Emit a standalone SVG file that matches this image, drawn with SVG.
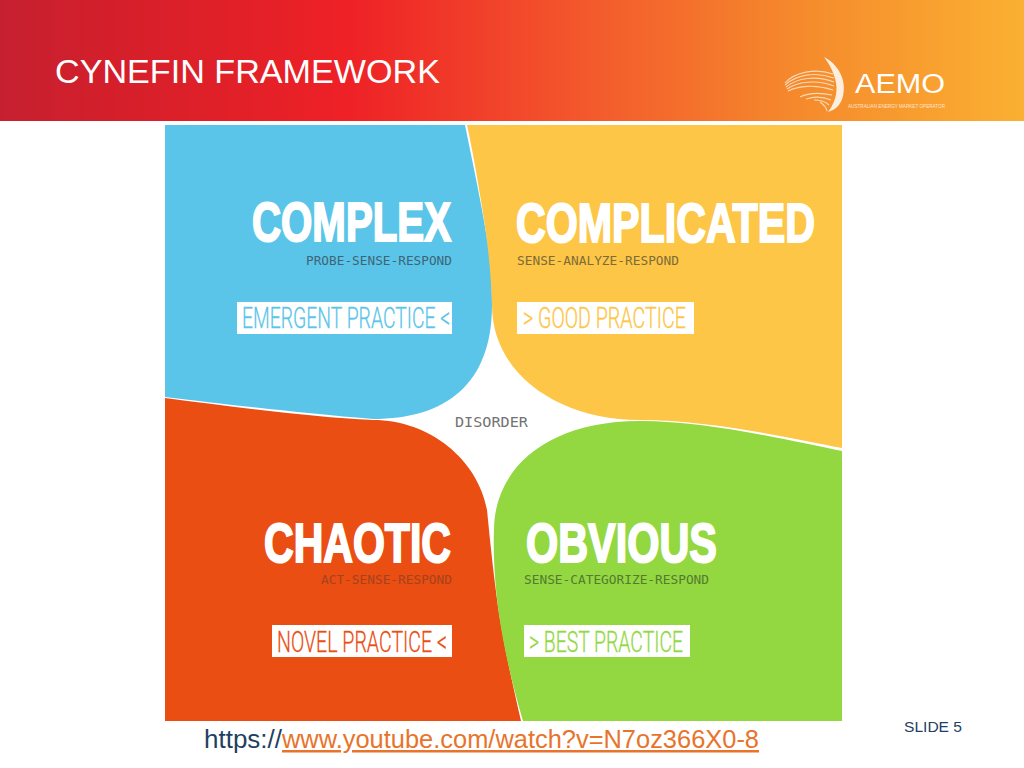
<svg xmlns="http://www.w3.org/2000/svg" width="1024" height="768" viewBox="0 0 1024 768">
<style>
.t{font-family:"Liberation Sans",Arial,sans-serif;font-weight:700;font-size:55px;fill:#fff;stroke:#fff;stroke-width:2}
.s{font-family:"DejaVu Sans Mono","Liberation Mono",monospace;font-size:12px}
.p{font-family:"Roboto","Liberation Sans",sans-serif;font-size:30px;font-weight:300;stroke-width:.3}
.w{fill:#fff}
.h{font-family:"Liberation Sans",Arial,sans-serif}
.sw{fill:none;stroke:#fde6cf;stroke-width:1.1;opacity:.85}
</style>
<defs>
<linearGradient id="hg" x1="0" y1="0" x2="1" y2="0">
<stop offset="0" stop-color="#c62030"/><stop offset="0.1" stop-color="#d31f2b"/><stop offset="0.34" stop-color="#ee2126"/><stop offset="0.55" stop-color="#f3532c"/><stop offset="0.78" stop-color="#f58a2c"/><stop offset="1" stop-color="#fbb032"/>
</linearGradient>
</defs>
<rect width="1024" height="768" fill="#fff"/>
<g id="header">
<rect width="1024" height="121" fill="url(#hg)"/>
<text class="h" x="55" y="83" font-size="33" fill="#fff" textLength="385" lengthAdjust="spacingAndGlyphs">CYNEFIN FRAMEWORK</text>
</g>
<g id="logo">
<path d="M824 57C838 64 847 80 843 96C841 105 835 110 828 112C834 104 838 94 836 83C834 73 830 65 824 57Z" fill="#fdeedd"/>
<path class="sw" d="M785 83C795 72 815 68 833 74"/>
<path class="sw" d="M785 85C796 75 815 71 834 78"/>
<path class="sw" d="M786 87C797 78 816 75 834 82"/>
<path class="sw" d="M787 89C797 82 816 79 834 86"/>
<path class="sw" d="M788 91C798 86 815 84 833 90"/>
<path class="sw" d="M800 97C810 92 822 93 832 95"/>
<path class="sw" d="M806 99C815 96 824 97 831 100"/>
<path class="sw" d="M814 100C820 100 826 102 829 105"/>
<path class="sw" d="M820 102C823 104 826 107 827 111"/>
<text class="h" x="855" y="92.5" font-size="27" fill="#fff" textLength="90" lengthAdjust="spacingAndGlyphs">AEMO</text>
<text class="h" x="848" y="108" font-size="5.5" fill="#fde5cf" textLength="97" lengthAdjust="spacingAndGlyphs">AUSTRALIAN ENERGY MARKET OPERATOR</text>
</g>
<g id="complex">
<path d="M165 125H465C472 160 482 205 488 245C491 265 492 285 492 305C492 385 445 419 373 419C330 416 230 405 165 397Z" fill="#5bc5e9"/>
<text class="t" x="252" y="241" textLength="199" lengthAdjust="spacingAndGlyphs">COMPLEX</text>
<text class="s" x="306" y="265" fill="#3d6577" textLength="146" lengthAdjust="spacingAndGlyphs">PROBE-SENSE-RESPOND</text>
<rect class="w" x="237" y="302" width="215" height="32"/>
<text class="p" transform="translate(242 328) scale(.72 1)" fill="#5bc5e9" stroke="#5bc5e9" textLength="289" lengthAdjust="spacingAndGlyphs">EMERGENT PRACTICE &lt;</text>
</g>
<g id="complicated">
<path d="M467 125H842V448C790 438 710 420 640 420C560 420 492 375 492 305C491 270 487 235 480 195C476 170 472 148 467 125Z" fill="#fdc646"/>
<text class="t" x="516" y="242" textLength="299" lengthAdjust="spacingAndGlyphs">COMPLICATED</text>
<text class="s" x="517" y="265" fill="#7d6c3a" textLength="162" lengthAdjust="spacingAndGlyphs">SENSE-ANALYZE-RESPOND</text>
<rect class="w" x="517" y="302" width="177" height="32"/>
<text class="p" x="523" y="328" fill="#fdc646" stroke="#fdc646" textLength="163" lengthAdjust="spacingAndGlyphs">&gt; GOOD PRACTICE</text>
</g>
<g id="chaotic">
<path d="M165 398C235 407 310 417 373 420C430 420 478 460 487 510C490 540 495 590 501 625C507 660 514 690 521 721H165Z" fill="#ea4e13"/>
<text class="t" x="264" y="562" textLength="187" lengthAdjust="spacingAndGlyphs">CHAOTIC</text>
<text class="s" x="321" y="584" fill="#a4431c" textLength="131" lengthAdjust="spacingAndGlyphs">ACT-SENSE-RESPOND</text>
<rect class="w" x="272" y="625" width="180" height="32"/>
<text class="p" x="277" y="652" fill="#ea4e13" stroke="#ea4e13" textLength="170" lengthAdjust="spacingAndGlyphs">NOVEL PRACTICE &lt;</text>
</g>
<g id="obvious">
<path d="M842 451V721H523C514 690 505 655 499 615C495 585 493 555 494 530C494 470 545 421 640 421C710 421 790 441 842 451Z" fill="#93d840"/>
<text class="t" x="526" y="562" textLength="191" lengthAdjust="spacingAndGlyphs">OBVIOUS</text>
<text class="s" x="524" y="584" fill="#557a30" textLength="185" lengthAdjust="spacingAndGlyphs">SENSE-CATEGORIZE-RESPOND</text>
<rect class="w" x="524" y="625" width="166" height="32"/>
<text class="p" x="529" y="652" fill="#93d840" stroke="#93d840" textLength="154" lengthAdjust="spacingAndGlyphs">&gt; BEST PRACTICE</text>
</g>
<g id="disorder">
<text class="s" x="455" y="427" fill="#737373" style="font-size:14.5px" textLength="73" lengthAdjust="spacingAndGlyphs">DISORDER</text>
</g>
<g id="footer">
<text class="h" x="204" y="748" font-size="25" fill="#1f3f63" textLength="78" lengthAdjust="spacingAndGlyphs">https://</text>
<text class="h" x="282" y="748" font-size="25" fill="#e8742c" text-decoration="underline" textLength="477" lengthAdjust="spacingAndGlyphs">www.youtube.com/watch?v=N7oz366X0-8</text>
<text class="h" x="904" y="732" font-size="14.5" fill="#1f3f63" textLength="58" lengthAdjust="spacingAndGlyphs">SLIDE 5</text>
</g>
</svg>
